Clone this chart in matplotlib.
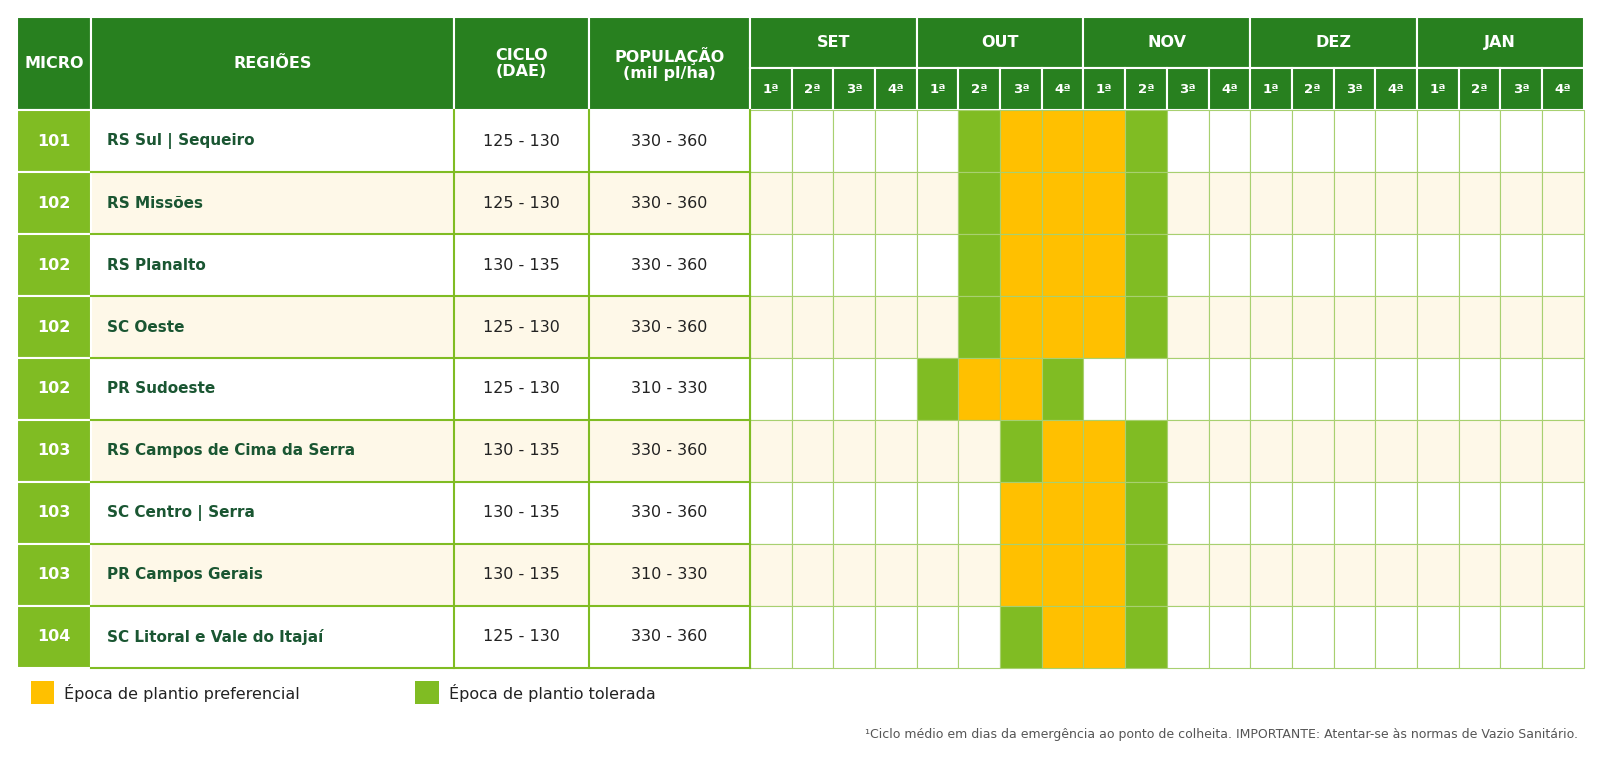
import matplotlib
matplotlib.use("Agg")
import matplotlib.pyplot as plt
from matplotlib.patches import Rectangle

DARK = "#28801F"
LIGHT = "#80BC23"
YELLOW = "#FFC000"
CREAM = "#FEF8E8"
TXT = "#1A5632"

micro = ["101", "102", "102", "102", "102", "103", "103", "103", "104"]
regioes = ["RS Sul | Sequeiro", "RS Missões", "RS Planalto", "SC Oeste", "PR Sudoeste",
           "RS Campos de Cima da Serra", "SC Centro | Serra", "PR Campos Gerais",
           "SC Litoral e Vale do Itajaí"]
ciclo = ["125 - 130", "125 - 130", "130 - 135", "125 - 130", "125 - 130",
         "130 - 135", "130 - 135", "130 - 135", "125 - 130"]
populacao = ["330 - 360", "330 - 360", "330 - 360", "330 - 360", "310 - 330",
             "330 - 360", "330 - 360", "310 - 330", "330 - 360"]
meses = ["SET", "OUT", "NOV", "DEZ", "JAN"]
semanas = ["1ª", "2ª", "3ª", "4ª"]
# 0 = vazio, 1 = tolerada, 2 = preferencial (20 semanas SET..JAN)
epocas = [
    [0]*5 + [1, 2, 2, 2, 1] + [0]*10,
    [0]*5 + [1, 2, 2, 2, 1] + [0]*10,
    [0]*5 + [1, 2, 2, 2, 1] + [0]*10,
    [0]*5 + [1, 2, 2, 2, 1] + [0]*10,
    [0]*4 + [1, 2, 2, 1] + [0]*12,
    [0]*6 + [1, 2, 2, 1] + [0]*10,
    [0]*6 + [2, 2, 2, 1] + [0]*10,
    [0]*6 + [2, 2, 2, 1] + [0]*10,
    [0]*6 + [1, 2, 2, 1] + [0]*10,
]

fig = plt.figure(figsize=(16, 7.81), dpi=100)
ax = fig.add_axes([0, 0, 1, 1])
# coordinates measured on a 1568-wide view of the reference
ax.set_xlim(0, 1568)
ax.set_ylim(765, 0)
ax.axis("off")

cols = [17, 89, 445, 577, 735]
x_end = 1552
wk_w = (x_end - 735) / 20
y0, y1, y2 = 17, 67, 108
row_h = (654 - y2) / len(micro)
fs = 11.5

def rect(x, y, w, h, fc, ec="none", lw=0):
    ax.add_patch(Rectangle((x, y), w, h, facecolor=fc, edgecolor=ec, linewidth=lw))

# header
for i, lab in enumerate(["MICRO", "REGIÕES", "CICLO\n(DAE)", "POPULAÇÃO\n(mil pl/ha)"]):
    rect(cols[i], y0, cols[i+1] - cols[i], y2 - y0, DARK, "white", 1.5)
    ax.text((cols[i] + cols[i+1]) / 2, (y0 + y2) / 2, lab, color="white", fontsize=fs,
            fontweight="bold", ha="center", va="center", linespacing=1.1)
for m, mes in enumerate(meses):
    xm = 735 + m * 4 * wk_w
    rect(xm, y0, 4 * wk_w, y1 - y0, DARK, "white", 1.5)
    ax.text(xm + 2 * wk_w, (y0 + y1) / 2, mes, color="white", fontsize=fs,
            fontweight="bold", ha="center", va="center")
    for s, sem in enumerate(semanas):
        xs = xm + s * wk_w
        rect(xs, y1, wk_w, y2 - y1, DARK, "white", 1.5)
        ax.text(xs + wk_w / 2, (y1 + y2) / 2, sem, color="white", fontsize=9.5,
                fontweight="bold", ha="center", va="center")

# rows
for r in range(len(micro)):
    y = y2 + r * row_h
    bg = "white" if r % 2 == 0 else CREAM
    rect(cols[1], y, x_end - cols[1], row_h, bg)
    rect(cols[0], y, cols[1] - cols[0], row_h, LIGHT, "white", 1.5)
    ax.text((cols[0] + cols[1]) / 2, y + row_h / 2, micro[r], color="white",
            fontsize=fs, fontweight="bold", ha="center", va="center")
    ax.text(cols[1] + 16, y + row_h / 2, regioes[r], color=TXT, fontsize=11,
            fontweight="bold", ha="left", va="center")
    ax.text((cols[2] + cols[3]) / 2, y + row_h / 2, ciclo[r], color="#222222",
            fontsize=fs, ha="center", va="center")
    ax.text((cols[3] + cols[4]) / 2, y + row_h / 2, populacao[r], color="#222222",
            fontsize=fs, ha="center", va="center")
    for w, v in enumerate(epocas[r]):
        fc = {0: bg, 1: LIGHT, 2: YELLOW}[v]
        rect(735 + w * wk_w, y, wk_w, row_h, fc, "#A8D070", 0.8)
    ax.plot([cols[1], cols[4]], [y + row_h, y + row_h], color=LIGHT, lw=1.5)

for x in cols[2:]:
    ax.plot([x, x], [y2, 654], color=LIGHT, lw=1.5)

# legend
rect(30, 667, 23, 23, YELLOW)
ax.text(63, 679, "Época de plantio preferencial", fontsize=11.5, color="#222222", va="center")
rect(407, 667, 23, 23, LIGHT)
ax.text(440, 679, "Época de plantio tolerada", fontsize=11.5, color="#222222", va="center")
ax.text(1546, 719, "¹Ciclo médio em dias da emergência ao ponto de colheita. IMPORTANTE: Atentar-se às normas de Vazio Sanitário.",
        fontsize=9, color="#555555", ha="right", va="center")

fig.savefig("out.png", dpi=100)
